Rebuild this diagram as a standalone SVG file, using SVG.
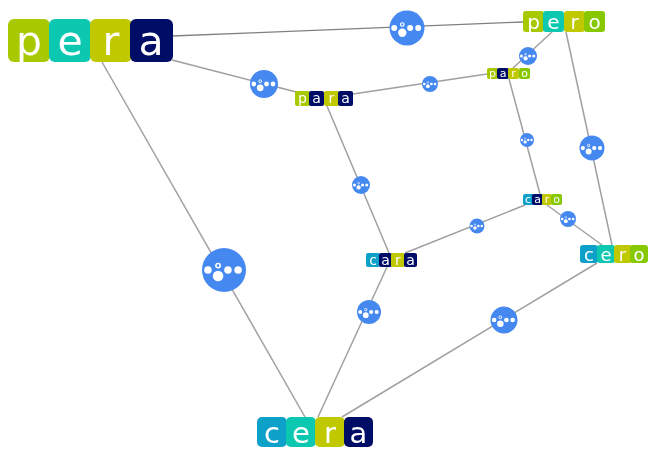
<svg xmlns="http://www.w3.org/2000/svg" width="651" height="461" viewBox="0 0 651 461">
<style>
text{font-family:"DejaVu Sans",Verdana,sans-serif;fill:#fff;text-anchor:middle}
.p{fill:#a8c800}.e{fill:#0cc8b0}.r{fill:#c0c800}.a{fill:#000a66}.c{fill:#0ca0c8}.o{fill:#88c800}
#edges line{stroke:#a0a0a0;stroke-width:1.5}
</style>
<defs>
<filter id="soft" x="0" y="0" width="100%" height="100%"><feGaussianBlur stdDeviation="0.45"/></filter>
<g id="ic">
<circle r="1" fill="#4488f0"/>
<g fill="#fff"><circle cx="-.73" r=".17"/><circle cx=".18" r=".17"/><circle cx=".64" r=".17"/><circle cx="-.27" cy=".27" r=".24"/></g>
<circle cx="-.27" cy="-.2" r=".1" fill="#4488f0" stroke="#fff" stroke-width=".07"/>
</g>
</defs>
<rect width="651" height="461" fill="#fff"/>
<g filter="url(#soft)">
<g id="edges">
<line x1="172" y1="36" x2="523" y2="22" style="stroke:#808080;stroke-width:1.3"/>
<line x1="172" y1="60" x2="300" y2="93"/>
<line x1="102" y1="62" x2="305" y2="417"/>
<line x1="353" y1="94" x2="487" y2="74"/>
<line x1="327" y1="106" x2="389" y2="253"/>
<line x1="552" y1="32" x2="513" y2="68"/>
<line x1="566" y1="32" x2="612" y2="245"/>
<line x1="509" y1="79" x2="540" y2="194"/>
<line x1="547" y1="205" x2="602" y2="245"/>
<line x1="525" y1="205" x2="405" y2="253"/>
<line x1="387" y1="267" x2="318" y2="417"/>
<line x1="597" y1="263" x2="342" y2="417"/>
</g>
<g id="node-pera" font-size="41">
<rect class="p" x="8" y="19" width="42" height="43" rx="6"/><rect class="e" x="49" y="19" width="42" height="43" rx="6"/><rect class="r" x="90" y="19" width="42" height="43" rx="6"/><rect class="a" x="130" y="19" width="43" height="43" rx="6"/>
<text x="29" y="55">p</text><text x="70" y="55">e</text><text x="111" y="55">r</text><text x="151" y="55">a</text>
</g>
<g id="node-pero" font-size="20">
<rect class="p" x="523" y="11" width="21" height="21" rx="3"/><rect class="e" x="543" y="11" width="21" height="21" rx="3"/><rect class="r" x="564" y="11" width="21" height="21" rx="3"/><rect class="o" x="584" y="11" width="21" height="21" rx="3"/>
<text x="533.500" y="29">p</text><text x="553.500" y="29">e</text><text x="574.500" y="29">r</text><text x="594.500" y="29">o</text>
</g>
<g id="node-para" font-size="14">
<rect class="p" x="295" y="91" width="15" height="15" rx="2"/><rect class="a" x="309" y="91" width="15" height="15" rx="2"/><rect class="r" x="324" y="91" width="15" height="15" rx="2"/><rect class="a" x="338" y="91" width="15" height="15" rx="2"/>
<text x="302.500" y="103">p</text><text x="316.500" y="103">a</text><text x="331.500" y="103">r</text><text x="345.500" y="103">a</text>
</g>
<g id="node-paro" font-size="11">
<rect class="p" x="487" y="68" width="11" height="11" rx="2"/><rect class="a" x="497" y="68" width="12" height="11" rx="2"/><rect class="r" x="508" y="68" width="11" height="11" rx="2"/><rect class="o" x="519" y="68" width="11" height="11" rx="2"/>
<text x="492.500" y="77">p</text><text x="503" y="77">a</text><text x="513.500" y="77">r</text><text x="524.500" y="77">o</text>
</g>
<g id="node-caro" font-size="11">
<rect class="c" x="523" y="194" width="11" height="11" rx="2"/><rect class="a" x="532" y="194" width="11" height="11" rx="2"/><rect class="r" x="542" y="194" width="10" height="11" rx="2"/><rect class="o" x="551" y="194" width="11" height="11" rx="2"/>
<text x="528" y="203">c</text><text x="537.500" y="203">a</text><text x="547" y="203">r</text><text x="556.500" y="203">o</text>
</g>
<g id="node-cara" font-size="14">
<rect class="c" x="366" y="253" width="14" height="14" rx="2"/><rect class="a" x="379" y="253" width="13" height="14" rx="2"/><rect class="r" x="391" y="253" width="14" height="14" rx="2"/><rect class="a" x="404" y="253" width="13" height="14" rx="2"/>
<text x="373" y="265">c</text><text x="385.500" y="265">a</text><text x="398" y="265">r</text><text x="410.500" y="265">a</text>
</g>
<g id="node-cero" font-size="18">
<rect class="c" x="580" y="245" width="18" height="18" rx="3"/><rect class="e" x="597" y="245" width="18" height="18" rx="3"/><rect class="r" x="614" y="245" width="18" height="18" rx="3"/><rect class="o" x="630" y="245" width="18" height="18" rx="3"/>
<text x="589" y="261">c</text><text x="606" y="261">e</text><text x="622.500" y="261">r</text><text x="639" y="261">o</text>
</g>
<g id="node-cera" font-size="29">
<rect class="c" x="257" y="417" width="30" height="30" rx="5"/><rect class="e" x="286" y="417" width="30" height="30" rx="5"/><rect class="r" x="315" y="417" width="30" height="30" rx="5"/><rect class="a" x="344" y="417" width="29" height="30" rx="5"/>
<text x="272" y="443">c</text><text x="301" y="443">e</text><text x="330" y="443">r</text><text x="358.500" y="443">a</text>
</g>
<g id="icon-1"><use href="#ic" transform="translate(407 28) scale(17.500)"/></g>
<g id="icon-2"><use href="#ic" transform="translate(264 84) scale(14)"/></g>
<g id="icon-3"><use href="#ic" transform="translate(430 84) scale(8)"/></g>
<g id="icon-4"><use href="#ic" transform="translate(528 56) scale(9)"/></g>
<g id="icon-5"><use href="#ic" transform="translate(527 140) scale(7)"/></g>
<g id="icon-6"><use href="#ic" transform="translate(592 148) scale(12.500)"/></g>
<g id="icon-7"><use href="#ic" transform="translate(361 185) scale(9)"/></g>
<g id="icon-8"><use href="#ic" transform="translate(477 226) scale(7.500)"/></g>
<g id="icon-9"><use href="#ic" transform="translate(568 219) scale(8)"/></g>
<g id="icon-10"><use href="#ic" transform="translate(224 270) scale(22)"/></g>
<g id="icon-11"><use href="#ic" transform="translate(369 312) scale(12)"/></g>
<g id="icon-12"><use href="#ic" transform="translate(504 320) scale(13.500)"/></g>
</g>
</svg>
